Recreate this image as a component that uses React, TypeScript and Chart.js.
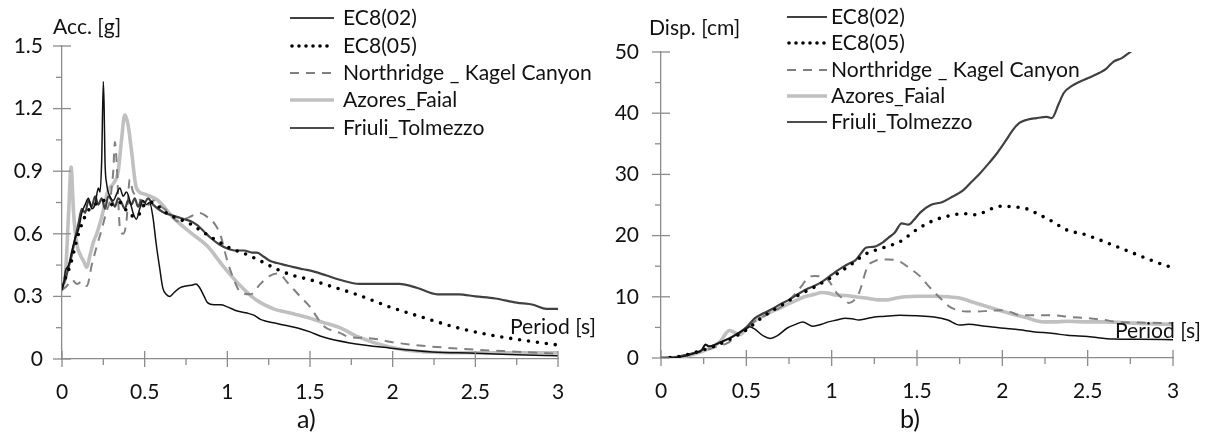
import React, { useEffect, useRef } from "react";
import { Chart, registerables } from "chart.js";

Chart.register(...registerables);

// ---------- Data: (a) spectral acceleration [g] ----------
const accEC802T = [0, 0.02, 0.04, 0.06, 0.08, 0.1, 0.12, 0.14, 0.16, 0.18, 0.2, 0.22, 0.24, 0.26, 0.28, 0.3, 0.32, 0.34, 0.36, 0.38, 0.4, 0.42, 0.44, 0.46, 0.48, 0.5, 0.52, 0.55, 0.58, 0.62, 0.66, 0.7, 0.74, 0.78, 0.82, 0.86, 0.9, 0.95, 1.0, 1.05, 1.1, 1.15, 1.18, 1.22, 1.26, 1.3, 1.35, 1.4, 1.46, 1.52, 1.6, 1.68, 1.8, 1.9, 2.04, 2.15, 2.27, 2.4, 2.5, 2.62, 2.75, 2.85, 2.93, 3.0];
const accEC802V = [0.35, 0.38, 0.44, 0.5, 0.58, 0.65, 0.72, 0.7, 0.76, 0.73, 0.78, 0.74, 0.77, 0.72, 0.78, 0.76, 0.73, 0.77, 0.75, 0.72, 0.76, 0.74, 0.77, 0.73, 0.76, 0.75, 0.77, 0.74, 0.72, 0.7, 0.69, 0.68, 0.67, 0.66, 0.64, 0.61, 0.58, 0.55, 0.53, 0.52, 0.52, 0.51, 0.51, 0.49, 0.47, 0.46, 0.45, 0.44, 0.43, 0.42, 0.4, 0.38, 0.36, 0.36, 0.36, 0.34, 0.31, 0.31, 0.3, 0.29, 0.27, 0.26, 0.24, 0.24];

const accEC805T = [0, 0.05, 0.1, 0.15, 0.2, 0.25, 0.3, 0.35, 0.4, 0.45, 0.5, 0.55, 0.6, 0.65, 0.71, 0.77, 0.83, 0.91, 1.02, 1.12, 1.2, 1.3, 1.4, 1.5, 1.62, 1.78, 1.98, 2.18, 2.39, 2.59, 2.79, 3.0];
const accEC805V = [0.35, 0.45, 0.6, 0.7, 0.74, 0.76, 0.74, 0.75, 0.7, 0.68, 0.74, 0.75, 0.72, 0.69, 0.67, 0.65, 0.62, 0.58, 0.53, 0.5, 0.47, 0.43, 0.4, 0.38, 0.35, 0.31, 0.25, 0.2, 0.15, 0.115, 0.09, 0.067];

const accNorT = [0, 0.03, 0.06, 0.09, 0.12, 0.15, 0.18, 0.21, 0.24, 0.27, 0.29, 0.31, 0.32, 0.33, 0.35, 0.37, 0.39, 0.41, 0.43, 0.46, 0.5, 0.55, 0.6, 0.65, 0.7, 0.77, 0.83, 0.88, 0.93, 0.96, 1.0, 1.04, 1.08, 1.14, 1.2, 1.26, 1.31, 1.36, 1.44, 1.5, 1.58, 1.68, 1.74, 1.86, 2.0, 2.23, 2.5, 2.75, 3.0];
const accNorV = [0.33, 0.35, 0.38, 0.36, 0.37, 0.35, 0.45, 0.54, 0.62, 0.71, 0.76, 0.9, 1.04, 0.95, 0.63, 0.6, 0.66, 0.86, 0.8, 0.78, 0.72, 0.76, 0.73, 0.7, 0.66, 0.68, 0.7, 0.68, 0.64, 0.59, 0.47, 0.38, 0.32, 0.31, 0.36, 0.4, 0.41, 0.37, 0.3, 0.25, 0.16, 0.125, 0.105, 0.1, 0.08, 0.06, 0.045, 0.035, 0.025];

const accAzoT = [0, 0.02, 0.04, 0.055, 0.07, 0.09, 0.11, 0.13, 0.15, 0.17, 0.19, 0.21, 0.24, 0.28, 0.31, 0.34, 0.36, 0.38, 0.4, 0.42, 0.45, 0.5, 0.58, 0.67, 0.77, 0.88, 0.97, 1.08, 1.18, 1.28, 1.38, 1.48, 1.58, 1.68, 1.78, 1.98, 2.18, 2.5, 3.0];
const accAzoV = [0.34, 0.4, 0.7, 0.92, 0.7, 0.55, 0.5, 0.47, 0.44, 0.5, 0.56, 0.6, 0.68, 0.81, 0.84, 0.9, 1.05, 1.17, 1.12, 1.0, 0.82, 0.79, 0.76, 0.68, 0.61, 0.54, 0.45, 0.35, 0.28, 0.24, 0.22, 0.2, 0.175, 0.15, 0.11, 0.058, 0.035, 0.03, 0.03];

const accFriT = [0, 0.01, 0.02, 0.04, 0.06, 0.08, 0.1, 0.12, 0.14, 0.16, 0.18, 0.2, 0.22, 0.23, 0.24, 0.25, 0.255, 0.26, 0.27, 0.29, 0.31, 0.33, 0.35, 0.37, 0.39, 0.41, 0.43, 0.45, 0.47, 0.49, 0.51, 0.53, 0.55, 0.57, 0.59, 0.61, 0.63, 0.65, 0.68, 0.71, 0.75, 0.79, 0.81, 0.83, 0.86, 0.88, 0.92, 0.96, 1.0, 1.06, 1.12, 1.16, 1.2, 1.3, 1.44, 1.5, 1.58, 1.74, 1.98, 2.24, 2.5, 2.75, 3.0];
const accFriV = [0.33, 0.36, 0.42, 0.45, 0.52, 0.58, 0.62, 0.7, 0.74, 0.77, 0.72, 0.74, 0.82, 0.8, 0.95, 1.33, 1.2, 0.95, 0.84, 0.78, 0.76, 0.79, 0.82, 0.78, 0.8, 0.76, 0.7, 0.67, 0.72, 0.76, 0.74, 0.75, 0.68, 0.55, 0.44, 0.34, 0.31, 0.3, 0.32, 0.34, 0.35, 0.355, 0.36, 0.345, 0.3, 0.27, 0.26, 0.26, 0.25, 0.23, 0.22, 0.21, 0.19, 0.17, 0.145, 0.13, 0.105, 0.077, 0.053, 0.034, 0.028, 0.02, 0.015];

// ---------- Data: (b) spectral displacement [cm] ----------
const dispEC802T = [0, 0.05, 0.1, 0.15, 0.2, 0.24, 0.26, 0.28, 0.3, 0.35, 0.4, 0.45, 0.5, 0.55, 0.6, 0.65, 0.7, 0.75, 0.8, 0.85, 0.9, 0.94, 1.0, 1.04, 1.1, 1.14, 1.18, 1.2, 1.25, 1.3, 1.33, 1.37, 1.41, 1.45, 1.48, 1.52, 1.58, 1.65, 1.71, 1.77, 1.82, 1.87, 1.92, 1.97, 2.02, 2.06, 2.1, 2.14, 2.2, 2.26, 2.29, 2.33, 2.36, 2.41, 2.45, 2.5, 2.57, 2.61, 2.65, 2.7, 2.76, 2.8];
const dispEC802V = [0, 0.05, 0.2, 0.5, 0.9, 1.3, 2.2, 1.9, 2.0, 2.6, 3.2, 4.0, 5.0, 6.5, 7.3, 8.0, 8.8, 9.5, 10.4, 11.2, 11.8, 12.4, 13.6, 14.4, 15.4, 16.0, 17.4, 18.0, 18.2, 18.9, 19.6, 20.5, 22.0, 21.8, 22.5, 23.8, 25.0, 25.5, 26.4, 27.4, 28.8, 30.2, 31.8, 33.5, 35.5, 37.2, 38.4, 38.9, 39.2, 39.4, 39.2, 41.5, 43.3, 44.5, 45.1, 45.7, 46.6, 47.3, 48.4, 49.0, 50.2, 50.8];

const dispEC805T = [0, 0.1, 0.2, 0.3, 0.4, 0.5, 0.6, 0.7, 0.8, 0.9, 1.0, 1.1, 1.2, 1.3, 1.4, 1.5, 1.6, 1.7, 1.77, 1.85, 1.92, 1.99, 2.07, 2.14, 2.21, 2.28, 2.38, 2.48, 2.57, 2.67, 2.77, 2.87, 2.97, 3.0];
const dispEC805V = [0, 0.2, 0.9, 1.8, 3.0, 4.6, 6.8, 8.5, 10.2, 11.6, 13.2, 15.0, 17.0, 18.0, 19.0, 21.0, 22.5, 23.3, 23.6, 23.4, 24.2, 24.8, 24.7, 24.4, 23.5, 22.5, 20.9, 20.2, 19.3, 18.2, 17.1, 16.0, 15.0, 14.8];

const dispNorT = [0, 0.1, 0.2, 0.3, 0.4, 0.5, 0.6, 0.7, 0.79, 0.83, 0.86, 0.9, 0.94, 0.98, 1.03, 1.07, 1.1, 1.13, 1.16, 1.21, 1.25, 1.29, 1.33, 1.37, 1.41, 1.46, 1.52, 1.56, 1.6, 1.65, 1.69, 1.74, 1.79, 1.85, 1.92, 1.99, 2.05, 2.1, 2.2, 2.28, 2.4, 2.5, 2.6, 2.67, 2.8, 3.0];
const dispNorV = [0, 0.2, 0.8, 1.6, 2.6, 5.0, 6.8, 8.3, 10.6, 12.0, 13.1, 13.4, 13.3, 12.7, 10.6, 9.6, 9.0, 9.4, 10.6, 14.9, 15.8, 16.1, 16.1, 16.0, 15.6, 14.6, 13.3, 12.0, 10.8, 9.4, 8.4, 7.8, 7.6, 7.6, 7.7, 7.8, 7.5, 7.0, 7.0, 7.0, 6.7, 6.5, 6.2, 5.9, 5.8, 5.7];

const dispAzoT = [0, 0.1, 0.2, 0.3, 0.35, 0.38, 0.4, 0.43, 0.46, 0.5, 0.55, 0.6, 0.65, 0.7, 0.75, 0.8, 0.84, 0.9, 0.94, 0.98, 1.02, 1.08, 1.14, 1.2, 1.27, 1.33, 1.38, 1.43, 1.5, 1.6, 1.68, 1.75, 1.83, 1.91, 1.98, 2.04, 2.14, 2.24, 2.3, 2.38, 2.5, 2.57, 2.7, 2.85, 3.0];
const dispAzoV = [0, 0.1, 0.7, 1.8, 2.8, 4.0, 4.5, 4.2, 3.8, 4.8, 6.2, 6.9, 7.6, 8.2, 8.9, 9.5, 10.0, 10.4, 10.7, 10.6, 10.3, 10.2, 10.0, 9.8, 9.5, 9.5, 9.8, 10.0, 10.1, 10.1, 10.0, 9.8, 9.1, 8.4, 7.8, 7.3, 6.6, 5.9, 5.9, 6.0, 5.9, 5.9, 5.8, 5.6, 5.5];

const dispFriT = [0, 0.1, 0.2, 0.24, 0.26, 0.28, 0.3, 0.35, 0.4, 0.45, 0.5, 0.52, 0.55, 0.6, 0.64, 0.68, 0.74, 0.79, 0.83, 0.89, 0.94, 0.98, 1.03, 1.08, 1.12, 1.16, 1.2, 1.25, 1.3, 1.4, 1.5, 1.6, 1.68, 1.75, 1.8, 1.9, 1.99, 2.1, 2.18, 2.3, 2.38, 2.5, 2.65, 2.8, 3.0];
const dispFriV = [0, 0.1, 0.8, 1.3, 2.2, 1.9, 2.0, 2.6, 3.2, 4.0, 4.8, 5.1, 4.7, 3.6, 3.2, 3.6, 4.9, 5.5, 5.9, 5.2, 5.5, 5.9, 6.2, 6.5, 6.4, 6.2, 6.4, 6.7, 6.8, 7.0, 6.9, 6.7, 6.2, 5.4, 5.5, 5.2, 4.9, 4.6, 4.3, 4.0, 3.7, 3.5, 3.1, 3.05, 3.0];

const seriesNames = ["EC8(02)", "EC8(05)", "Northridge _ Kagel Canyon", "Azores_Faial", "Friuli_Tolmezzo"];
const xTickLabels = ["0", "0.5", "1", "1.5", "2", "2.5", "3"];
const accTickLabels = ["0", "0.3", "0.6", "0.9", "1.2", "1.5"];
const dispTickLabels = ["0", "10", "20", "30", "40", "50"];

const FONT = "Lato, 'Open Sans', 'DejaVu Sans', sans-serif";
const TEXT_COLOR = "#111111";

const styles = [
  { color: "#404040", width: 2.2, dash: [] as number[], cap: "butt" },
  { color: "#000000", width: 3.6, dash: [0, 9], cap: "round" },
  { color: "#808080", width: 2, dash: [9, 7], cap: "butt" },
  { color: "#c0c0c0", width: 3.6, dash: [] as number[], cap: "butt" },
  { color: "#111111", width: 1.5, dash: [] as number[], cap: "butt" },
];

const zip = (t: number[], v: number[]) => t.map((x, i) => ({ x, y: v[i] }));

type Panel = {
  left: number;
  width: number;
  padTop: number;
  padRight: number;
  padBottom: number;
  yWidth: number;
  yPad: number;
  yMax: number;
  yStep: number;
  yTicks: string[];
  series: { t: number[]; v: number[] }[];
  yTitle: string;
  yTitlePos: [number, number];
  periodPos: [number, number];
  letter: string;
  letterPos: [number, number];
  legendLine: [number, number];
  legendTextX: number;
  legendRows: number[];
};

const panels: Panel[] = [
  {
    left: 0,
    width: 600,
    padTop: 46,
    padRight: 42,
    padBottom: 42,
    yWidth: 62,
    yPad: 19,
    yMax: 1.5,
    yStep: 0.3,
    yTicks: accTickLabels,
    series: [
      { t: accEC802T, v: accEC802V },
      { t: accEC805T, v: accEC805V },
      { t: accNorT, v: accNorV },
      { t: accAzoT, v: accAzoV },
      { t: accFriT, v: accFriV },
    ],
    yTitle: "Acc. [g]",
    yTitlePos: [53, 27],
    periodPos: [510, 327],
    letter: "a)",
    letterPos: [297, 420],
    legendLine: [290, 334],
    legendTextX: 343,
    legendRows: [18, 46, 73, 100, 128],
  },
  {
    left: 600,
    width: 618,
    padTop: 52,
    padRight: 45,
    padBottom: 43,
    yWidth: 61,
    yPad: 22,
    yMax: 50,
    yStep: 10,
    yTicks: dispTickLabels,
    series: [
      { t: dispEC802T, v: dispEC802V },
      { t: dispEC805T, v: dispEC805V },
      { t: dispNorT, v: dispNorV },
      { t: dispAzoT, v: dispAzoV },
      { t: dispFriT, v: dispFriV },
    ],
    yTitle: "Disp. [cm]",
    yTitlePos: [49, 28],
    periodPos: [515, 331],
    letter: "b)",
    letterPos: [300, 420],
    legendLine: [187, 227],
    legendTextX: 231,
    legendRows: [17, 43, 70, 96, 122],
  },
];

// font size chosen so the longest legend entry matches the reference width (249 px)
function fittedSize(ctx: CanvasRenderingContext2D) {
  ctx.font = `20px ${FONT}`;
  const w = ctx.measureText(seriesNames[2]).width || 249;
  return Math.max(16, Math.min(24, (20 * 249) / w));
}

function makeDecorPlugin(p: Panel) {
  return {
    id: "decor",
    afterDraw(chart: any) {
      const ctx = chart.ctx as CanvasRenderingContext2D;
      const xs = chart.scales.x;
      const ys = chart.scales.y;
      const axisX = chart.chartArea.left;
      const axisY = chart.chartArea.bottom;
      ctx.save();
      ctx.strokeStyle = "#8c8c8c";
      ctx.lineWidth = 1.3;
      const yv = ys.ticks.map((t: any) => t.value);
      yv.forEach((v: number, i: number) => {
        const py = ys.getPixelForValue(v);
        ctx.beginPath();
        ctx.moveTo(axisX - 9, py);
        ctx.lineTo(axisX + 9, py);
        ctx.stroke();
        if (i < yv.length - 1) {
          const pm = ys.getPixelForValue((v + yv[i + 1]) / 2);
          ctx.beginPath();
          ctx.moveTo(axisX - 6, pm);
          ctx.lineTo(axisX, pm);
          ctx.stroke();
        }
      });
      const xv = xs.ticks.map((t: any) => t.value);
      xv.forEach((v: number, i: number) => {
        const px = xs.getPixelForValue(v);
        ctx.beginPath();
        ctx.moveTo(px, axisY - 8);
        ctx.lineTo(px, axisY + 8);
        ctx.stroke();
        if (i < xv.length - 1) {
          const pm = xs.getPixelForValue((v + xv[i + 1]) / 2);
          ctx.beginPath();
          ctx.moveTo(pm, axisY);
          ctx.lineTo(pm, axisY + 6);
          ctx.stroke();
        }
      });
      const size = fittedSize(ctx);
      ctx.font = `${size}px ${FONT}`;
      ctx.textBaseline = "middle";
      ctx.textAlign = "left";
      chart.data.datasets.forEach((ds: any, i: number) => {
        const y = p.legendRows[i];
        const st = styles[i];
        ctx.save();
        ctx.strokeStyle = st.color;
        ctx.lineWidth = st.width;
        ctx.lineCap = st.cap as CanvasLineCap;
        ctx.setLineDash(i === 1 ? [0, 7] : st.dash);
        ctx.beginPath();
        ctx.moveTo(p.legendLine[0] + (i === 1 ? 2 : 0), y);
        ctx.lineTo(p.legendLine[1], y);
        ctx.stroke();
        ctx.restore();
        ctx.fillStyle = TEXT_COLOR;
        ctx.fillText(ds.label, p.legendTextX, y);
      });
      ctx.fillStyle = TEXT_COLOR;
      ctx.fillText(p.yTitle, p.yTitlePos[0], p.yTitlePos[1]);
      ctx.fillText("Period [s]", p.periodPos[0], p.periodPos[1]);
      ctx.font = `${size + 4}px ${FONT}`;
      ctx.fillText(p.letter, p.letterPos[0], p.letterPos[1]);
      ctx.restore();
    },
  };
}

function PanelChart({ p }: { p: Panel }) {
  const ref = useRef<HTMLCanvasElement | null>(null);
  useEffect(() => {
    if (!ref.current) return;
    const chart = new Chart(ref.current, {
      type: "line",
      data: {
        datasets: p.series.map((s, i) => ({
          label: seriesNames[i],
          data: zip(s.t, s.v),
          borderColor: styles[i].color,
          borderWidth: styles[i].width,
          borderDash: styles[i].dash,
          borderCapStyle: styles[i].cap as any,
          pointRadius: 0,
          fill: false,
          cubicInterpolationMode: "monotone" as const,
          order: [2, 1, 3, 4, 0][i],
        })),
      },
      options: {
        responsive: false,
        animation: false,
        devicePixelRatio: 1,
        layout: { padding: { left: 0, top: p.padTop, right: p.padRight, bottom: p.padBottom } },
        plugins: { legend: { display: false }, tooltip: { enabled: false } },
        scales: {
          x: {
            type: "linear",
            min: 0,
            max: 3,
            afterFit: (s: any) => {
              s.height = 40;
            },
            border: { color: "#8c8c8c", width: 1.3 },
            grid: { drawOnChartArea: false, drawTicks: false, color: "#8c8c8c" },
            ticks: {
              stepSize: 0.5,
              padding: 21,
              color: TEXT_COLOR,
              font: { family: FONT, size: 21 },
              maxRotation: 0,
              callback: (v: any, i: number) => xTickLabels[i] ?? String(v),
            },
          },
          y: {
            type: "linear",
            min: 0,
            max: p.yMax,
            afterFit: (s: any) => {
              s.width = p.yWidth;
            },
            border: { color: "#8c8c8c", width: 1.3 },
            grid: { drawOnChartArea: false, drawTicks: false, color: "#8c8c8c" },
            ticks: {
              stepSize: p.yStep,
              padding: p.yPad,
              color: TEXT_COLOR,
              font: { family: FONT, size: 21 },
              callback: (v: any, i: number) => p.yTicks[i] ?? String(v),
            },
          },
        },
      },
      plugins: [makeDecorPlugin(p)],
    });
    return () => chart.destroy();
  }, [p]);
  return (
    <canvas
      ref={ref}
      width={p.width}
      height={441}
      style={{ position: "absolute", left: p.left, top: 0, width: p.width, height: 441 }}
    />
  );
}

export default function App() {
  return (
    <div style={{ position: "absolute", left: 0, top: 0, width: 1218, height: 441, background: "#fff" }}>
      {panels.map((p, i) => (
        <PanelChart key={i} p={p} />
      ))}
    </div>
  );
}
